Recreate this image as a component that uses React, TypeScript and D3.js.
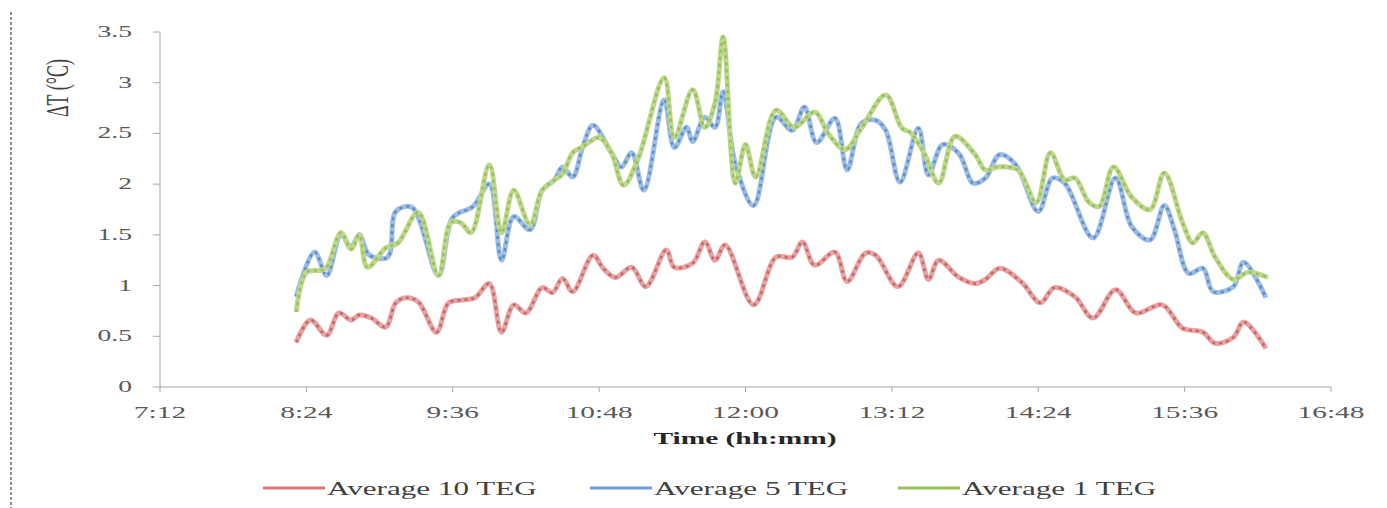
import React, { useEffect, useRef } from 'react';
import * as d3 from 'd3';

// time (hh:mm) and ΔT (°C)
const avg10TEG: [string, number][] = [
  ['8:19', 0.44], ['8:26', 0.66], ['8:34', 0.51], ['8:40', 0.73], ['8:46', 0.66], ['8:50', 0.71],
  ['8:56', 0.68], ['9:03', 0.59], ['9:08', 0.83], ['9:13', 0.88], ['9:19', 0.84], ['9:28', 0.54],
  ['9:34', 0.83], ['9:42', 0.86], ['9:47', 0.88], ['9:54', 1.02], ['10:00', 0.54], ['10:06', 0.81],
  ['10:12', 0.73], ['10:20', 0.98], ['10:25', 0.93], ['10:30', 1.07], ['10:35', 0.94], ['10:45', 1.30],
  ['10:50', 1.17], ['10:56', 1.08], ['11:04', 1.18], ['11:11', 0.99], ['11:21', 1.35], ['11:25', 1.18],
  ['11:34', 1.22], ['11:40', 1.43], ['11:45', 1.25], ['11:50', 1.40], ['12:04', 0.81], ['12:15', 1.28],
  ['12:23', 1.28], ['12:28', 1.43], ['12:34', 1.20], ['12:44', 1.33], ['12:50', 1.04], ['12:59', 1.32],
  ['13:04', 1.30], ['13:15', 0.99], ['13:25', 1.32], ['13:30', 1.06], ['13:35', 1.25], ['13:45', 1.08],
  ['13:53', 1.02], ['13:58', 1.06], ['14:05', 1.17], ['14:16', 1.03], ['14:25', 0.83], ['14:32', 0.98],
  ['14:42', 0.89], ['14:51', 0.68], ['15:02', 0.96], ['15:12', 0.73], ['15:25', 0.81], ['15:35', 0.58],
  ['15:45', 0.54], ['15:51', 0.43], ['16:00', 0.49], ['16:05', 0.64], ['16:16', 0.38],
];

const avg5TEG: [string, number][] = [
  ['8:19', 0.89], ['8:28', 1.33], ['8:34', 1.10], ['8:41', 1.50], ['8:46', 1.38], ['8:50', 1.50],
  ['8:55', 1.30], ['9:04', 1.28], ['9:08', 1.73], ['9:16', 1.77], ['9:29', 1.10], ['9:36', 1.67],
  ['9:46', 1.78], ['9:54', 2.00], ['10:00', 1.25], ['10:06', 1.68], ['10:14', 1.55], ['10:20', 1.94],
  ['10:26', 2.04], ['10:30', 2.17], ['10:35', 2.07], ['10:40', 2.37], ['10:45', 2.58], ['10:54', 2.31],
  ['10:59', 2.17], ['11:04', 2.31], ['11:10', 1.94], ['11:20', 2.83], ['11:25', 2.36], ['11:31', 2.56],
  ['11:34', 2.42], ['11:40', 2.66], ['11:45', 2.56], ['11:49', 2.91], ['11:55', 2.20], ['12:04', 1.79],
  ['12:15', 2.66], ['12:23', 2.53], ['12:29', 2.76], ['12:35', 2.41], ['12:44', 2.65], ['12:50', 2.14],
  ['12:57', 2.60], ['13:04', 2.63], ['13:09', 2.53], ['13:16', 2.02], ['13:25', 2.55], ['13:30', 2.09],
  ['13:37', 2.39], ['13:45', 2.30], ['13:52', 2.01], ['13:58', 2.06], ['14:05', 2.29], ['14:13', 2.19],
  ['14:24', 1.73], ['14:31', 2.06], ['14:37', 2.01], ['14:51', 1.47], ['15:02', 2.06], ['15:10', 1.58],
  ['15:19', 1.45], ['15:26', 1.79], ['15:31', 1.55], ['15:38', 1.12], ['15:45', 1.17], ['15:50', 0.94],
  ['16:00', 0.99], ['16:05', 1.23], ['16:16', 0.88],
];

const avg1TEG: [string, number][] = [
  ['8:19', 0.74], ['8:24', 1.13], ['8:31', 1.15], ['8:34', 1.18], ['8:41', 1.52], ['8:46', 1.36],
  ['8:50', 1.50], ['8:54', 1.18], ['9:03', 1.37], ['9:09', 1.42], ['9:19', 1.72], ['9:29', 1.10],
  ['9:35', 1.62], ['9:40', 1.62], ['9:45', 1.52], ['9:54', 2.19], ['10:00', 1.52], ['10:06', 1.94],
  ['10:14', 1.60], ['10:20', 1.94], ['10:26', 2.04], ['10:30', 2.10], ['10:35', 2.31], ['10:40', 2.37],
  ['10:48', 2.46], ['10:54', 2.31], ['11:00', 1.99], ['11:07', 2.24], ['11:20', 3.05], ['11:25', 2.46],
  ['11:34', 2.93], ['11:40', 2.56], ['11:45', 2.80], ['11:49', 3.45], ['11:55', 2.01], ['12:00', 2.39],
  ['12:05', 2.07], ['12:15', 2.73], ['12:24', 2.56], ['12:34', 2.71], ['12:41', 2.49], ['12:49', 2.34],
  ['12:57', 2.55], ['13:09', 2.88], ['13:17', 2.55], ['13:21', 2.51], ['13:28', 2.30], ['13:35', 2.01],
  ['13:43', 2.47], ['13:53', 2.29], ['13:58', 2.14], ['14:04', 2.17], ['14:14', 2.14], ['14:23', 1.82],
  ['14:30', 2.31], ['14:37', 2.04], ['14:42', 2.06], ['14:49', 1.82], ['14:54', 1.78], ['15:01', 2.17],
  ['15:10', 1.87], ['15:19', 1.75], ['15:26', 2.11], ['15:35', 1.62], ['15:40', 1.42], ['15:45', 1.52],
  ['15:51', 1.28], ['16:00', 1.06], ['16:07', 1.13], ['16:17', 1.08],
];

const xTickLabels = ['7:12', '8:24', '9:36', '10:48', '12:00', '13:12', '14:24', '15:36', '16:48'];
const yTicks = [0, 0.5, 1, 1.5, 2, 2.5, 3, 3.5];

const seriesNames = ['Average 10 TEG', 'Average 5 TEG', 'Average 1 TEG'];
const seriesData = [avg10TEG, avg5TEG, avg1TEG];
const lightColors = ['#e6a3a3', '#9dbde6', '#bcd88a'];
const darkColors = ['#c0504d', '#4a7ebb', '#8db352'];
const legendColors = ['#d9777a', '#6d9bd3', '#9bc45e'];

const W = 1387;
const H = 508;
const FONT = "'Liberation Serif', 'Times New Roman', serif";
const SX = 1.73; // the picture is stretched sideways

const App = () => {
  const ref = useRef<SVGSVGElement | null>(null);

  useEffect(() => {
    if (!ref.current) return;
    const svg = d3.select(ref.current);
    svg.selectAll('*').remove();

    const parse = d3.timeParse('%H:%M');
    const x = d3.scaleTime()
      .domain([parse('7:12') as Date, parse('16:48') as Date])
      .range([160, 1331]);
    const y = d3.scaleLinear().domain([0, 3.5]).range([387, 32]);

    svg.append('rect').attr('width', W).attr('height', H).attr('fill', '#fff');

    // dashed frame edge on the left
    svg.append('line')
      .attr('x1', 11).attr('x2', 11).attr('y1', 12).attr('y2', H)
      .attr('stroke', '#8c8c8c').attr('stroke-width', 2).attr('stroke-dasharray', '3,2');

    // axes
    svg.append('line')
      .attr('x1', x.range()[0]).attr('x2', x.range()[0]).attr('y1', y(0)).attr('y2', y(3.5))
      .attr('stroke', '#a6a6a6');
    svg.append('line')
      .attr('x1', x.range()[0]).attr('x2', x.range()[1]).attr('y1', y(0)).attr('y2', y(0))
      .attr('stroke', '#a6a6a6');

    yTicks.forEach(v => {
      svg.append('line')
        .attr('x1', 153).attr('x2', 160).attr('y1', y(v)).attr('y2', y(v))
        .attr('stroke', '#a6a6a6');
      svg.append('text')
        .attr('transform', `translate(132,${y(v) + 5}) scale(${SX},1)`)
        .attr('text-anchor', 'end')
        .attr('font-family', FONT).attr('font-size', 16)
        .attr('fill', '#595959')
        .text(String(v));
    });

    xTickLabels.forEach(lbl => {
      const px = x(parse(lbl) as Date);
      svg.append('line')
        .attr('x1', px).attr('x2', px).attr('y1', y(0)).attr('y2', y(0) + 5)
        .attr('stroke', '#a6a6a6');
      svg.append('text')
        .attr('transform', `translate(${px},${y(0) + 31}) scale(${SX},1)`)
        .attr('text-anchor', 'middle')
        .attr('font-family', FONT).attr('font-size', 17)
        .attr('fill', '#595959')
        .text(lbl);
    });

    svg.append('text')
      .attr('transform', `translate(745,444) scale(${SX},1)`)
      .attr('text-anchor', 'middle')
      .attr('font-family', FONT).attr('font-size', 17).attr('font-weight', 'bold')
      .attr('fill', '#262626')
      .text('Time (hh:mm)');

    svg.append('text')
      .attr('transform', `translate(68,88) scale(${SX},1) rotate(-90)`)
      .attr('text-anchor', 'middle')
      .attr('font-family', FONT).attr('font-size', 18)
      .attr('fill', '#404040')
      .text('ΔT (°C)');

    // series: light wide stroke with darker dashes on top
    const line = d3.line<[string, number]>()
      .x(d => x(parse(d[0]) as Date))
      .y(d => y(d[1]))
      .curve(d3.curveCatmullRom.alpha(0.5));

    seriesData.forEach((data, i) => {
      svg.append('path')
        .attr('d', line(data) as string)
        .attr('fill', 'none')
        .attr('stroke', lightColors[i])
        .attr('stroke-width', 5)
        .attr('stroke-linejoin', 'round');
      svg.append('path')
        .attr('d', line(data) as string)
        .attr('fill', 'none')
        .attr('stroke', darkColors[i])
        .attr('stroke-width', 2.5)
        .attr('stroke-opacity', 0.75)
        .attr('stroke-dasharray', '3,4');
    });

    // legend
    const legendX = [263, 590, 898];
    seriesNames.forEach((name, i) => {
      svg.append('line')
        .attr('x1', legendX[i]).attr('x2', legendX[i] + 62)
        .attr('y1', 488).attr('y2', 488)
        .attr('stroke', legendColors[i]).attr('stroke-width', 3);
      svg.append('text')
        .attr('transform', `translate(${legendX[i] + 64},495) scale(${SX},1)`)
        .attr('font-family', FONT).attr('font-size', 18)
        .attr('fill', '#404040')
        .text(name);
    });
  }, []);

  return (
    <svg
      ref={ref}
      width={W}
      height={H}
      style={{ position: 'absolute', left: 0, top: 0, display: 'block' }}
    />
  );
};

export default App;
